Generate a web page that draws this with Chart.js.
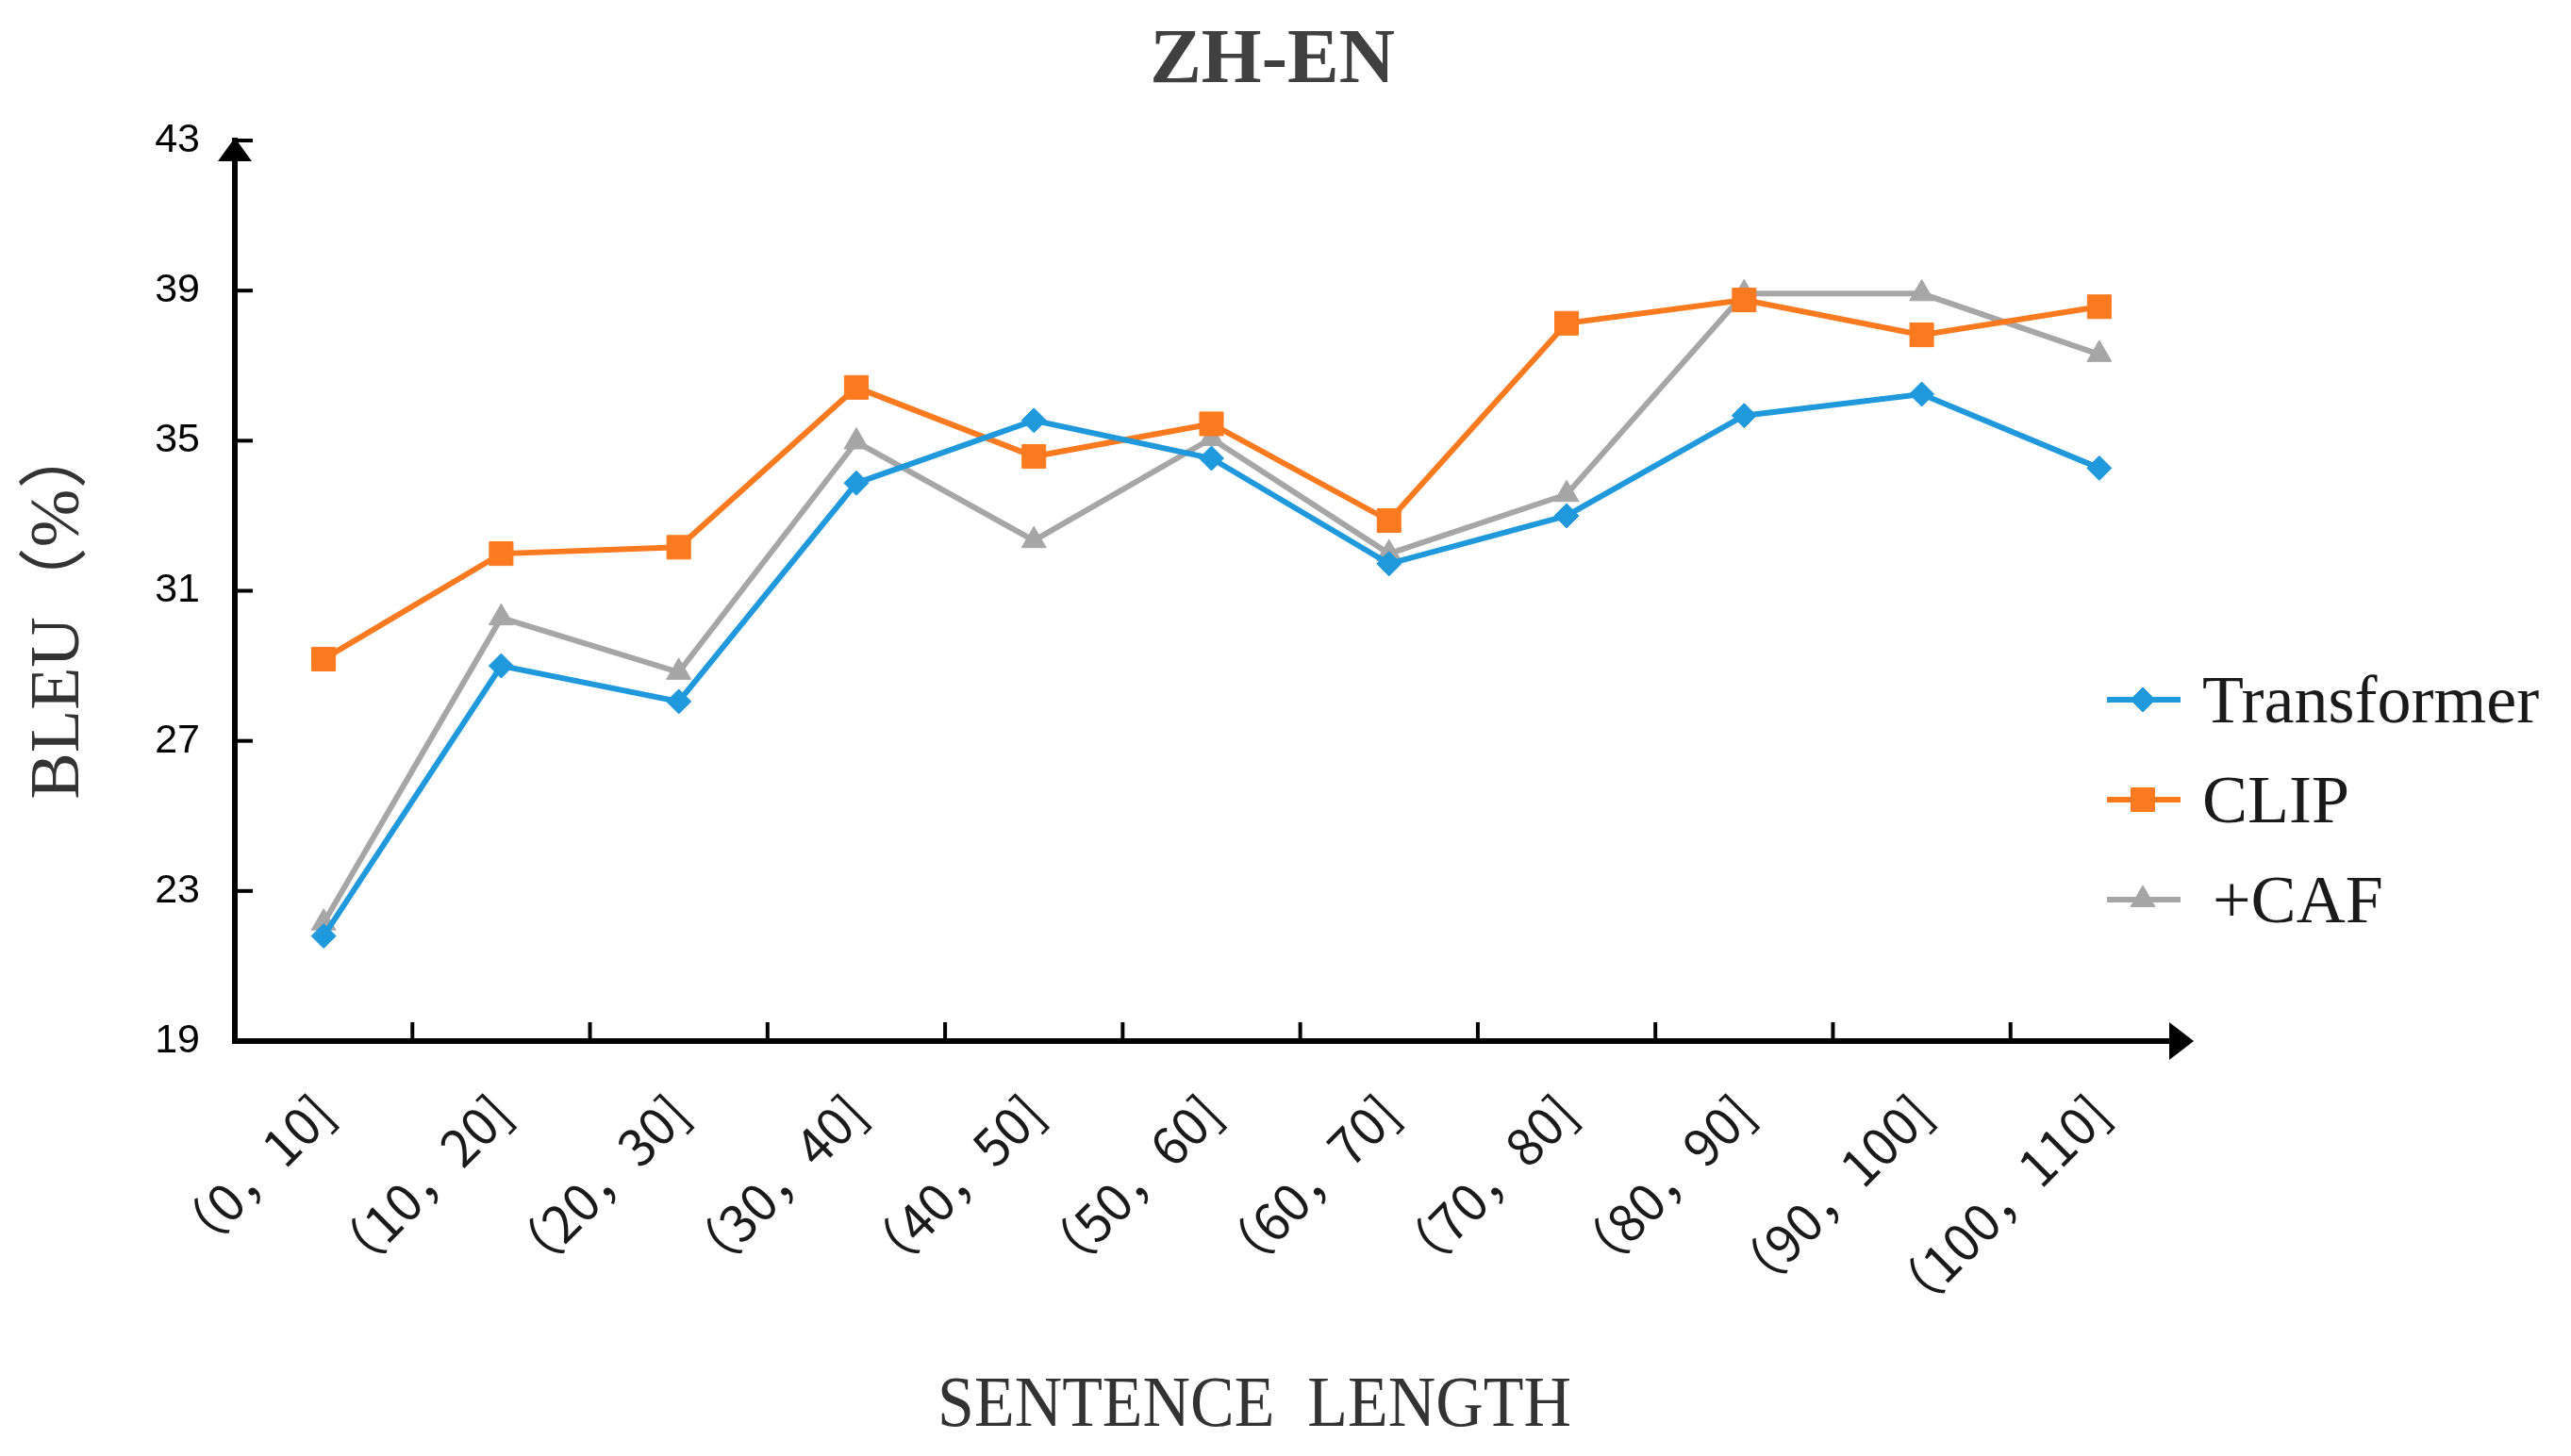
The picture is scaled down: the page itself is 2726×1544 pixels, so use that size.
<!DOCTYPE html>
<html><head><meta charset="utf-8">
<script src="https://cdn.jsdelivr.net/npm/chart.js@4.4.1/dist/chart.umd.min.js"></script>
<style>html,body{margin:0;padding:0;background:#fff;}canvas{display:block;}</style>
</head><body>
<canvas id="c" width="2726" height="1544"></canvas>
<script>
// ---- data ----
const categories = ['（0，10]','（10，20]','（20，30]','（30，40]','（40，50]','（50，60]','（60，70]','（70，80]','（80，90]','（90，100]','（100，110]'];
const transformerValues = [21.8, 29.0, 28.05, 33.87, 35.54, 34.53, 31.72, 33.0, 35.67, 36.24, 34.27];
const clipValues        = [29.18, 31.99, 32.16, 36.42, 34.58, 35.45, 32.87, 38.13, 38.75, 37.82, 38.57];
const cafValues         = [22.15, 30.28, 28.83, 34.97, 32.34, 35.06, 31.99, 33.57, 38.92, 38.92, 37.3];
const seriesNames = ['Transformer', 'CLIP', '+CAF'];
const yMin = 19, yMax = 43, yStep = 4;
const chartTitle = 'ZH-EN';
const xTitle = 'SENTENCE  LENGTH';
const yTitle = 'BLEU（%）';

// ---- styles ----
const colors = ['#1f98dc', '#fb7a1f', '#a6a6a6'];
const pointStyles = ['rectRot', 'rect', 'triangle'];
const pointRadii = [13, 17.7, 15];

const decor = {
  id: 'decor',
  afterDraw(chart) {
    const ctx = chart.ctx;
    const x = chart.scales.x, y = chart.scales.y;
    const L = chart.chartArea.left, B = chart.chartArea.bottom, T = chart.chartArea.top, R = chart.chartArea.right;
    ctx.save();
    ctx.strokeStyle = '#000'; ctx.fillStyle = '#000'; ctx.lineWidth = 4;
    // y ticks inward
    for (let v = yMin + yStep; v <= yMax; v += yStep) {
      const py = y.getPixelForValue(v);
      ctx.beginPath(); ctx.moveTo(L, py); ctx.lineTo(L + 19, py); ctx.stroke();
    }
    // x ticks at category boundaries
    for (let i = 1; i < categories.length; i++) {
      const px = (x.getPixelForValue(i - 1) + x.getPixelForValue(i)) / 2;
      ctx.beginPath(); ctx.moveTo(px, B); ctx.lineTo(px, B - 20); ctx.stroke();
    }
    // arrows
    ctx.beginPath(); ctx.moveTo(L, T - 3); ctx.lineTo(L - 18, T + 22); ctx.lineTo(L + 18, T + 22); ctx.closePath(); ctx.fill();
    ctx.beginPath(); ctx.moveTo(R + 6, B); ctx.lineTo(R - 20, B - 20); ctx.lineTo(R - 20, B + 20); ctx.closePath(); ctx.fill();
    // chart title
    ctx.fillStyle = '#404040'; ctx.font = 'bold 82px "Liberation Serif"';
    ctx.textAlign = 'center'; ctx.textBaseline = 'alphabetic';
    ctx.fillText(chartTitle, 1349, 87);
    // y title
    ctx.save();
    ctx.translate(64, 646); ctx.rotate(-Math.PI / 2);
    ctx.fillStyle = '#333'; ctx.font = '74px "Liberation Serif", "Noto Sans CJK SC"';
    ctx.textAlign = 'center'; ctx.textBaseline = 'middle';
    ctx.fillText(yTitle, 0, 0);
    ctx.restore();
    // x title
    ctx.save();
    ctx.translate(1330, 1512); ctx.scale(0.92, 1);
    ctx.fillStyle = '#333'; ctx.font = '76px "Liberation Serif"';
    ctx.textAlign = 'center'; ctx.textBaseline = 'alphabetic';
    ctx.fillText(xTitle, 0, 0);
    ctx.restore();
    // legend
    chart.data.datasets.forEach((ds, i) => {
      const ly = 742 + i * 106;
      ctx.strokeStyle = ds.borderColor; ctx.lineWidth = 6;
      ctx.beginPath(); ctx.moveTo(2234, ly); ctx.lineTo(2312, ly); ctx.stroke();
      ctx.fillStyle = ds.backgroundColor; ctx.strokeStyle = ds.borderColor; ctx.lineWidth = 1;
      Chart.helpers.drawPoint(ctx, {pointStyle: ds.pointStyle, rotation: 0, radius: ds.pointRadius, borderWidth: 1}, 2272, ly);
      ctx.fillStyle = '#1a1a1a'; ctx.font = '72px "Liberation Serif"';
      ctx.textAlign = 'left'; ctx.textBaseline = 'alphabetic';
      ctx.fillText(ds.label, i === 2 ? 2346 : 2335, ly + 24);
    });
    ctx.restore();
  }
};

const seriesData = [transformerValues, clipValues, cafValues];
new Chart(document.getElementById('c'), {
  type: 'line',
  data: {
    labels: categories,
    datasets: seriesNames.map((n, i) => ({
      label: n,
      data: seriesData[i],
      borderColor: colors[i],
      backgroundColor: colors[i],
      borderWidth: 6,
      pointStyle: pointStyles[i],
      pointRadius: pointRadii[i],
      pointBorderWidth: 1,
      tension: 0,
      fill: false
    }))
  },
  options: {
    responsive: false, animation: false, devicePixelRatio: 1,
    layout: { padding: { left: 0, right: 406, top: 149, bottom: 0 } },
    plugins: {
      legend: { display: false },
      tooltip: { enabled: false },
      title: { display: false }
    },
    scales: {
      x: {
        type: 'category', offset: true,
        grid: { display: false, drawTicks: false },
        border: { display: true, color: '#000', width: 6 },
        ticks: { color: '#1a1a1a', font: { family: '"Noto Sans CJK SC"', size: 54 }, minRotation: 45, maxRotation: 45, autoSkip: false, padding: 44 },
        afterFit(s) { s.height = 440; }
      },
      y: {
        min: yMin, max: yMax,
        grid: { display: false, drawTicks: false },
        border: { display: true, color: '#000', width: 6 },
        ticks: { stepSize: yStep, color: '#000', font: { family: '"Liberation Sans"', size: 43 }, padding: 37 },
        afterFit(s) { s.width = 249; }
      }
    }
  },
  plugins: [decor]
});
</script>
</body></html>
